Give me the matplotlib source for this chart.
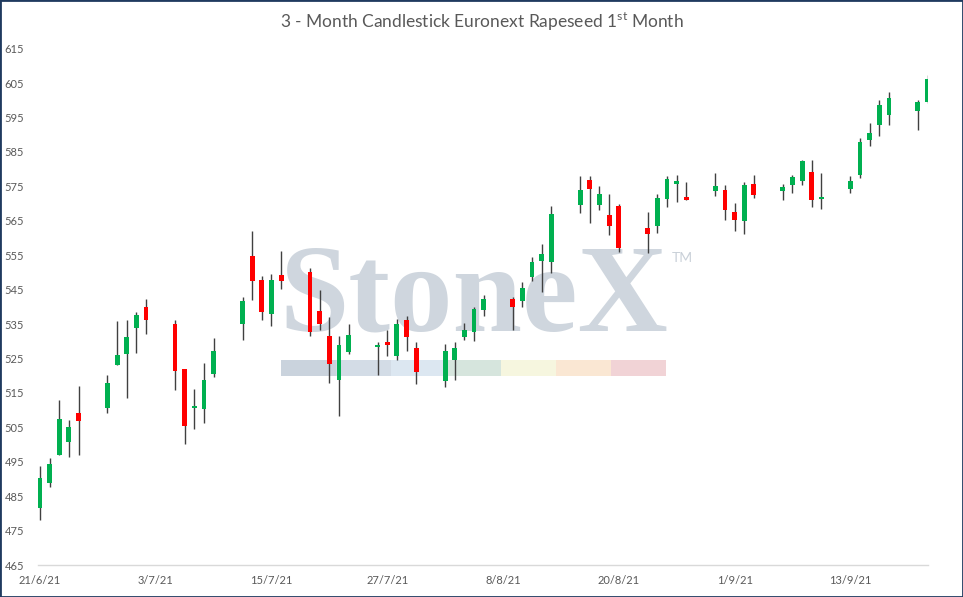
import numpy as np
import pandas as pd
import matplotlib
matplotlib.use("Agg")
import matplotlib.pyplot as plt
import matplotlib.dates as mdates
from matplotlib.patches import Rectangle

# --------------------------------------------------
# DATA
# --------------------------------------------------

dates = pd.bdate_range("2021-06-21", "2021-09-21")

opens = [481.7, 488.9, 497.1, 500.8, 509.1,
         510.7, 523.2, 526.4, 534.0, 540.0,
         535.1, 522.0, 510.5, 510.3, 520.6,
         534.9, 554.8, 547.8, 537.8, 549.3,
         550.0, 538.9, 531.6, 518.8, 526.9,
         528.2, 529.8, 525.8, 536.2, 528.1,
         518.5, 524.6, 531.3, 532.7, 539.2,
         542.3, 541.8, 548.8, 553.2, 552.9,
         569.7, 576.9, 569.7, 566.7, 569.4,
         563.0, 563.6, 571.2, 575.8, 572.0,
         573.7, 573.9, 567.6, 564.8, 575.8,
         573.7, 575.4, 576.5, 579.2, 571.2,
         574.3, 578.3, 588.5, 592.9, 595.8,
         596.8, 599.4]

highs = [493.8, 496.0, 513.0, 507.2, 517.0,
         520.2, 535.9, 536.2, 538.5, 542.3,
         536.2, 522.0, 516.1, 523.6, 531.0,
         543.0, 562.1, 549.0, 549.6, 556.3,
         551.2, 544.9, 537.0, 531.6, 535.1,
         529.8, 533.3, 536.5, 537.4, 529.8,
         529.2, 529.8, 535.4, 540.1, 543.5,
         543.0, 547.1, 554.6, 558.2, 569.4,
         578.1, 578.1, 575.2, 572.8, 569.9,
         567.6, 572.8, 578.1, 578.4, 576.3,
         578.9, 575.5, 570.1, 576.2, 578.4,
         575.8, 578.2, 582.7, 582.7, 578.9,
         578.1, 589.0, 593.4, 600.2, 602.5,
         600.2, 607.4]

lows = [478.1, 487.8, 497.1, 496.5, 497.0,
        509.3, 523.2, 513.6, 526.7, 532.2,
        515.7, 500.1, 504.4, 506.2, 519.7,
        530.4, 542.1, 536.3, 534.3, 545.2,
        531.4, 533.3, 518.0, 508.4, 526.3,
        520.2, 525.8, 524.6, 527.3, 517.6,
        516.8, 518.8, 530.4, 530.2, 537.2,
        533.3, 540.1, 547.4, 544.4, 549.8,
        567.4, 564.5, 568.2, 560.9, 555.8,
        555.5, 561.6, 568.9, 570.6, 570.9,
        572.3, 565.1, 562.1, 561.2, 571.6,
        570.9, 573.1, 575.4, 568.9, 568.3,
        573.1, 577.4, 586.6, 589.5, 592.9,
        591.5, 599.2]

closes = [490.4, 494.4, 507.4, 505.0, 506.8,
          517.9, 526.0, 531.3, 537.7, 536.3,
          521.5, 505.5, 511.0, 518.8, 527.2,
          541.7, 547.4, 538.6, 547.8, 547.4,
          532.8, 534.9, 523.4, 529.0, 531.9,
          528.7, 529.0, 535.1, 531.3, 521.1,
          527.2, 528.1, 533.3, 539.5, 542.3,
          540.0, 545.5, 553.1, 555.3, 567.0,
          574.0, 574.3, 572.8, 563.6, 557.2,
          561.3, 571.7, 577.2, 576.6, 571.1,
          575.0, 568.2, 565.1, 575.3, 572.6,
          574.7, 577.6, 582.4, 570.9, 571.9,
          576.7, 587.8, 590.6, 598.5, 600.8,
          599.5, 606.2]

tick_dates = ["2021-06-21", "2021-07-03", "2021-07-15", "2021-07-27",
              "2021-08-08", "2021-08-20", "2021-09-01", "2021-09-13"]
tick_labels = ["21/6/21", "3/7/21", "15/7/21", "27/7/21",
               "8/8/21", "20/8/21", "1/9/21", "13/9/21"]

y_ticks = np.arange(465, 616, 10)

# --------------------------------------------------
# PLOT
# --------------------------------------------------

plt.rcParams["font.family"] = ["Lato", "DejaVu Sans"]

fig = plt.figure(figsize=(9.63, 5.97), dpi=100)
ax = fig.add_axes([38 / 963, 32 / 597, 890 / 963, 516.3 / 597])

x = mdates.date2num(dates)
o = np.array(opens)
h = np.array(highs)
l = np.array(lows)
c = np.array(closes)

up = c >= o
colors = np.where(up, "#00B050", "#FF0000")
body_bottom = np.minimum(o, c)
body_height = np.maximum(np.abs(c - o), 0.7)

ax.vlines(x, l, h, color="#404040", lw=1.0, zorder=2)
ax.bar(x, body_height, bottom=body_bottom, width=0.5, color=colors,
       edgecolor="none", zorder=3)

# watermark
ax.text(0.271, 0.454, "StoneX", transform=ax.transAxes, ha="left",
        va="baseline", fontsize=90, family=["Liberation Serif"],
        weight="bold", color="#CFD6DE", zorder=0)
ax.text(0.712, 0.587, "TM", transform=ax.transAxes, ha="left",
        va="baseline", fontsize=10, color="#C9D0D8", zorder=0)
bar_colors = ["#CAD3DD", "#D3DCE6", "#DCE7F1", "#D6E5DD",
              "#F6F6DF", "#FAE7D3", "#F1D3D6"]
for i, bc in enumerate(bar_colors):
    ax.add_patch(Rectangle((0.273 + i * 0.0618, 0.366), 0.0618, 0.031,
                           transform=ax.transAxes, facecolor=bc,
                           edgecolor="none", zorder=0))

x0 = mdates.date2num(pd.Timestamp("2021-06-21"))
ax.set_xlim(x0 - 0.2, x0 + 92.05)
ax.set_ylim(465, 615)

ax.set_xticks(mdates.date2num(pd.to_datetime(tick_dates)))
ax.set_xticklabels(tick_labels)
ax.set_yticks(y_ticks)
ax.set_yticklabels([str(v) for v in y_ticks])

ax.tick_params(axis="both", length=0, labelsize=8, labelcolor="#595959")
ax.tick_params(axis="x", pad=7)
ax.tick_params(axis="y", pad=10)

for side in ["left", "top", "right"]:
    ax.spines[side].set_visible(False)
ax.spines["bottom"].set_color("#D9D9D9")
ax.spines["bottom"].set_linewidth(1.0)

fig.text(0.5, 1 - 22 / 597, r"3 - Month Candlestick Euronext Rapeseed 1$^{\mathregular{st}}$ Month",
         ha="center", va="center", fontsize=12.5, color="#595959")

fig.add_artist(Rectangle((0, 0), 1, 1, transform=fig.transFigure, fill=False,
                         edgecolor="#1F3A5F", lw=2.0))

fig.savefig("out.png", dpi=100)
